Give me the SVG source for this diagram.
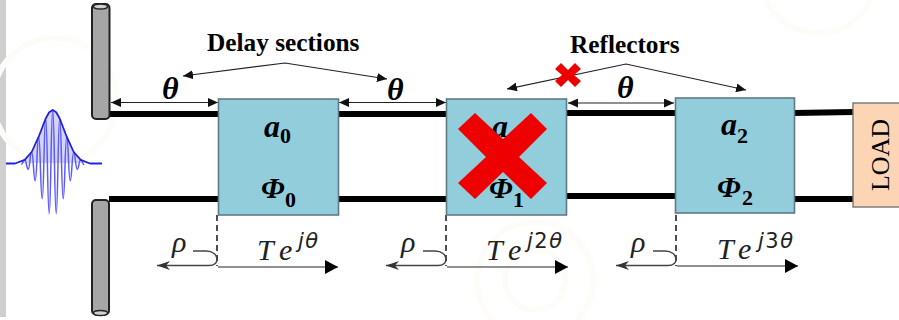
<svg xmlns="http://www.w3.org/2000/svg" width="899" height="320" viewBox="0 0 899 320">
<defs>
<marker id="h" markerUnits="userSpaceOnUse" markerWidth="11" markerHeight="9" refX="10" refY="4.5" orient="auto-start-reverse"><path d="M0 0L10 4.5L0 9z" fill="#111"/></marker>
<marker id="b" markerUnits="userSpaceOnUse" markerWidth="14" markerHeight="14" refX="13" refY="7" orient="auto"><path d="M0 0L13 7L0 14z" fill="#000"/></marker>
<marker id="l" markerUnits="userSpaceOnUse" markerWidth="14" markerHeight="9" refX="0" refY="4.5" orient="0"><path d="M0 4.5L13 0L9 4.5L13 9z" fill="#333"/></marker>
</defs>
<style>
.line{fill:none;stroke:#000;stroke-width:6}
.thin{fill:none;stroke:#222;stroke-width:1.2}
.curl{fill:none;stroke:#444;stroke-width:1.500}
.dash{fill:none;stroke:#222;stroke-width:1.6;stroke-dasharray:6 4}
.box{fill:#92cddc;stroke:#5f7a85;stroke-width:1.6}
.pole{fill:#a6a6a6;stroke:#222;stroke-width:2}
.rx{fill:#ee0000}
.wm{fill:none;stroke:#fdfcf8;stroke-width:6}
text{font-family:"Liberation Serif",serif;fill:#000}
.lbl{font-size:25.300px;font-weight:bold}
.var{font-size:32px;font-weight:bold;font-style:italic}
.phi{font-size:30px;font-weight:bold;font-style:italic}
.sub{font-size:22px;font-weight:bold}
.te{font-size:30px;font-style:italic;fill:#222}
.sup{font-family:"DejaVu Sans",sans-serif;font-size:21px;letter-spacing:1.500px;fill:#222}
.it{font-style:italic}
</style>
<rect x="0" y="0" width="899" height="320" fill="#fff"/>
<rect x="0" y="0" width="6" height="317" fill="#cfcfcf"/>
<g id="background">
<circle class="wm" cx="818" cy="-25" r="58"/>
<circle class="wm" cx="535" cy="280" r="58"/>
<circle class="wm" cx="535" cy="280" r="30"/>
<circle class="wm" cx="55" cy="100" r="62"/>
</g>
<g id="connectors">
<path class="line" d="M110 114H219M338 114H447M566 113H675M794 113L854 112M109 199H219M338 199H447M566 196H675M794 199H854"/>
<path class="thin" d="M111 102.500H218" marker-start="url(#h)" marker-end="url(#h)"/>
<path class="thin" d="M339 102.500H446" marker-start="url(#h)" marker-end="url(#h)"/>
<path class="thin" d="M568 103H674" marker-start="url(#h)" marker-end="url(#h)"/>
<path class="thin" d="M183 76L285 63L387 79" marker-start="url(#h)" marker-end="url(#h)"/>
<path class="thin" d="M507 89L626 64L746 90" marker-start="url(#h)" marker-end="url(#h)"/>
<path class="dash" d="M217 215V266M446 215V266M676 215V266"/>
<path class="thin" d="M218 267H338" marker-end="url(#b)"/>
<path class="thin" d="M447 267H568" marker-end="url(#b)"/>
<path class="thin" d="M677 266H798" marker-end="url(#b)"/>
<path class="curl" d="M193 251H206C213 251 217 255 217 259C217 263 214 265.500 209 265.500H157" marker-end="url(#l)"/>
<path class="curl" d="M423 251H435C442 251 446 255 446 259C446 263 443 265.500 438 265.500H386" marker-end="url(#l)"/>
<path class="curl" d="M653 251H665C672 251 676 255 676 259C676 263 673 265.500 668 265.500H616" marker-end="url(#l)"/>
</g>
<g id="source-pulse">
<path d="M21 163L24.700 159.800L31.700 152L38.700 136.700L45.700 118.500L49.200 112.300L52.700 110L56.200 112.300L59.700 118.500L66.700 136.700L73.700 152L80.700 159.800L85 163Z" fill="#d6d6fb"/>
<path d="M21.200 164.500C23 164.500 23 159.800 24.700 159.800S26.500 169.200 28.200 169.200S30 152 31.700 152S33.500 180.700 35.200 180.700S37 136.700 38.700 136.700S40.500 198.800 42.200 198.800S44 118.500 45.700 118.500S47.500 213.700 49.200 213.700S51 110 52.700 110S54.500 213.700 56.200 213.700S58 118.500 59.700 118.500S61.500 198.800 63.200 198.800S65 136.700 66.700 136.700S68.500 180.700 70.200 180.700S72 152 73.700 152S75.500 169.200 77.200 169.200S79 159.800 80.700 159.800S82.500 164.500 84.200 164.500" fill="none" stroke="#5a5aff" stroke-width="1.500"/>
<path d="M6 163.500H15L24.700 159.800L31.700 152L38.700 136.700L45.700 118.500L49.200 112.300L52.700 110L56.200 112.300L59.700 118.500L66.700 136.700L73.700 152L80.700 159.800L90 163.500H102" fill="none" stroke="#2222dd" stroke-width="1.800" stroke-linejoin="round"/>
</g>
<g id="pole-top">
<rect class="pole" x="92" y="4" width="17.500" height="115" rx="4"/>
<ellipse cx="100.500" cy="6.500" rx="7" ry="2.500" fill="#d0d0d0" stroke="#222" stroke-width="1.400"/>
</g>
<g id="pole-bottom">
<rect class="pole" x="92" y="200" width="17" height="114.500" rx="4"/>
<ellipse cx="100.500" cy="313" rx="7" ry="2.500" fill="#d0d0d0" stroke="#222" stroke-width="1.400"/>
</g>
<g id="section-0">
<rect class="box" x="218.500" y="99" width="120" height="116"/>
<text class="var" x="264" y="137">a</text><text class="sub" x="280" y="143">0</text>
<text class="phi" x="261" y="198">Φ</text><text class="sub" x="285" y="207">0</text>
</g>
<g id="section-1">
<rect class="box" x="446.500" y="99" width="120" height="116"/>
<text class="var" x="492" y="137">a</text>
<text class="phi" x="489" y="198">Φ</text><text class="sub" x="513" y="207">1</text>
<path class="rx" d="M458 129L475 113L503 139L531 113L547 129L519 157L547 183L531 199L503 172L475 199L458 183L486 157Z"/>
</g>
<g id="section-2">
<rect class="box" x="675.500" y="98" width="119" height="115"/>
<text class="var" x="721" y="135">a</text><text class="sub" x="737" y="143">2</text>
<text class="phi" x="717" y="197">Φ</text><text class="sub" x="742" y="205">2</text>
</g>
<g id="load">
<rect x="853" y="103" width="50" height="104" fill="#fcd5b5" stroke="#777" stroke-width="1.400"/>
<text transform="translate(889 155) rotate(-90)" text-anchor="middle" font-size="26">LOAD</text>
</g>
<g id="labels">
<text class="lbl" x="207" y="51">Delay sections</text>
<text class="lbl" x="570" y="53">Reflectors</text>
<text class="var" x="162" y="99">θ</text>
<text class="var" x="387" y="100">θ</text>
<text class="var" x="617" y="98">θ</text>
<text class="te" x="172" y="252">ρ</text>
<text class="te" x="401" y="252">ρ</text>
<text class="te" x="631" y="252">ρ</text>
<text class="te" x="257 279" y="260">Te</text><text class="sup" x="298" y="248"><tspan class="it">jθ</tspan></text>
<text class="te" x="486 508" y="260">Te</text><text class="sup" x="527" y="248"><tspan class="it">j</tspan>2<tspan class="it">θ</tspan></text>
<text class="te" x="717 738" y="259">Te</text><text class="sup" x="758" y="248"><tspan class="it">j</tspan>3<tspan class="it">θ</tspan></text>
<path class="rx" d="M561 63L568 70L575 63L581 69L574 75L581 81L575 87L568 80L561 87L555 81L562 75L555 69Z"/>
</g>
</svg>
